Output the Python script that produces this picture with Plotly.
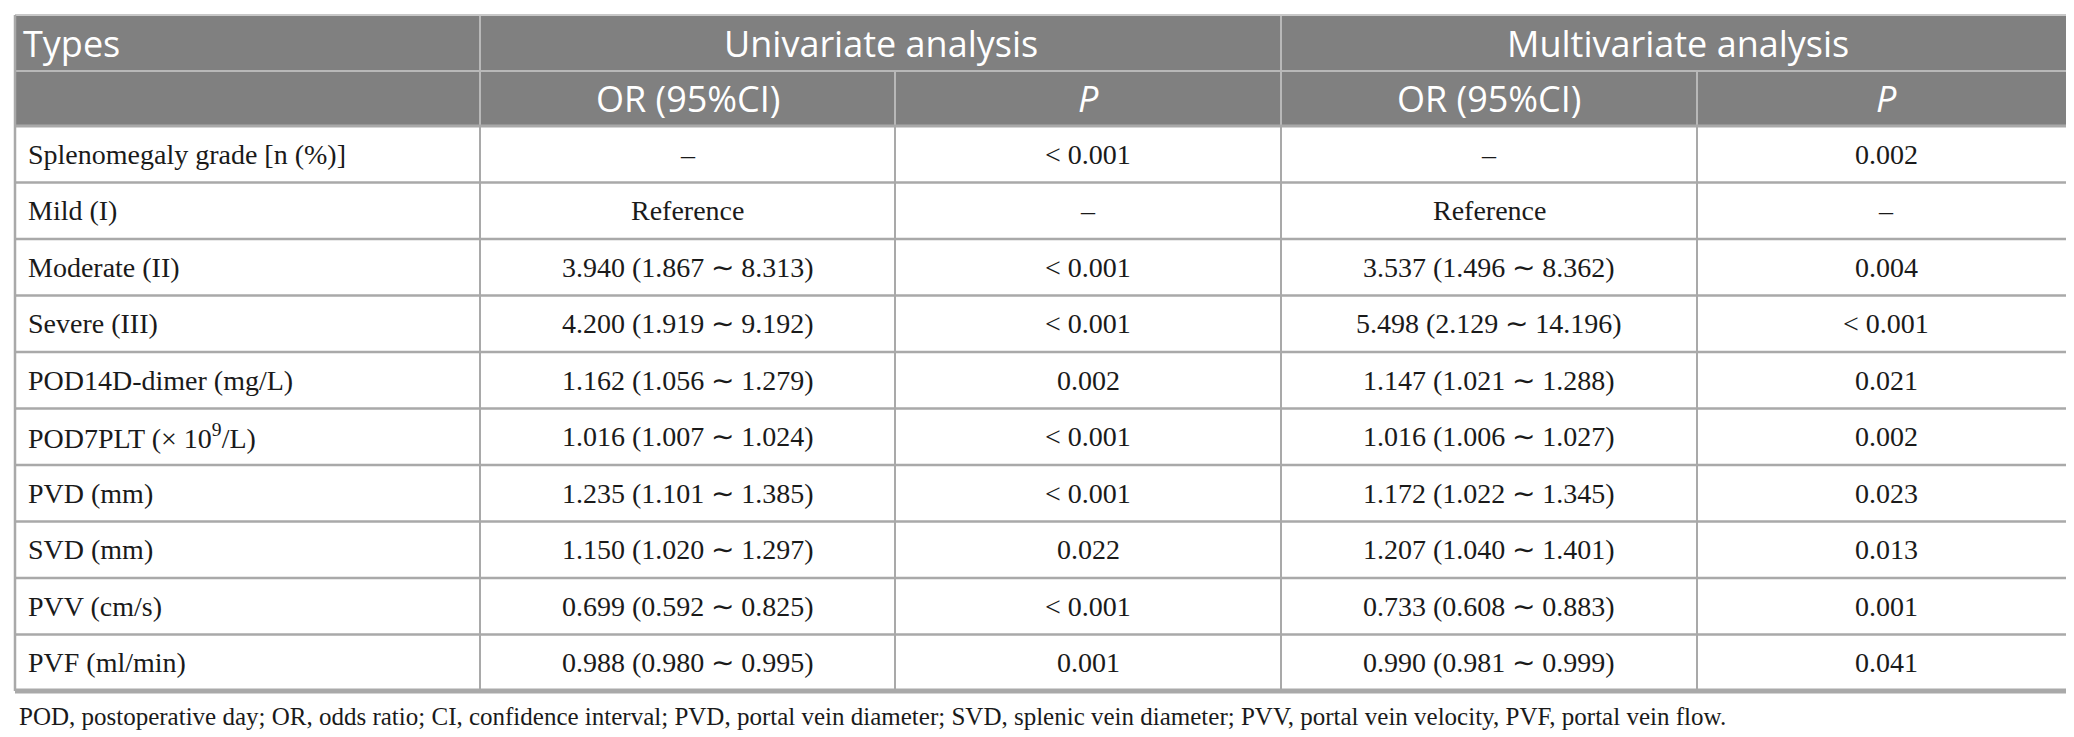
import plotly.graph_objects as go

# table content
types = ["Splenomegaly grade [n (%)]", "Mild (I)", "Moderate (II)", "Severe (III)",
         "POD14D-dimer (mg/L)", "POD7PLT (× 10<sup>9</sup>/L)", "PVD (mm)", "SVD (mm)",
         "PVV (cm/s)", "PVF (ml/min)"]
uni_or = ["–", "Reference", "3.940 (1.867 ∼ 8.313)", "4.200 (1.919 ∼ 9.192)",
          "1.162 (1.056 ∼ 1.279)", "1.016 (1.007 ∼ 1.024)", "1.235 (1.101 ∼ 1.385)",
          "1.150 (1.020 ∼ 1.297)", "0.699 (0.592 ∼ 0.825)", "0.988 (0.980 ∼ 0.995)"]
uni_p = ["< 0.001", "–", "< 0.001", "< 0.001", "0.002", "< 0.001", "< 0.001",
         "0.022", "< 0.001", "0.001"]
multi_or = ["–", "Reference", "3.537 (1.496 ∼ 8.362)", "5.498 (2.129 ∼ 14.196)",
            "1.147 (1.021 ∼ 1.288)", "1.016 (1.006 ∼ 1.027)", "1.172 (1.022 ∼ 1.345)",
            "1.207 (1.040 ∼ 1.401)", "0.733 (0.608 ∼ 0.883)", "0.990 (0.981 ∼ 0.999)"]
multi_p = ["0.002", "–", "0.004", "< 0.001", "0.021", "0.002", "0.023", "0.013",
           "0.001", "0.041"]
group_headers = ["Univariate analysis", "Multivariate analysis"]
sub_headers = ["OR (95%CI)", "<i>P</i>", "OR (95%CI)", "<i>P</i>"]
footnote = ("POD, postoperative day; OR, odds ratio; CI, confidence interval; PVD, portal vein diameter; "
            "SVD, splenic vein diameter; PVV, portal vein velocity, PVF, portal vein flow.")

W, H = 2074, 737
col_x = [7, 472, 887, 1273, 1689, 2067]
top = 7
head_h = [56, 55]
row_h = 56.5

HEAD_BG = "#808080"
LINE = "#a9a9a9"
SERIF = "Liberation Serif"
SANS = "Open Sans"
HEAD_SIZE = 36
BODY_SIZE = 28

fig = go.Figure()
shapes = []
ann = []

y_h1 = top + head_h[0]
y_h2 = y_h1 + head_h[1]
n = len(types)
y_bottom = y_h2 + n * row_h

# header background
shapes.append(dict(type="rect", x0=col_x[0], x1=col_x[-1], y0=top, y1=y_h2,
                   fillcolor=HEAD_BG, line_width=0, layer="below"))

# header text
ann.append(dict(x=col_x[0] + 6, y=(top + y_h1) / 2, text="Types", xanchor="left",
                font=dict(family=SANS, size=HEAD_SIZE, color="white")))
for i, g in enumerate(group_headers):
    xc = (col_x[1 + 2 * i] + col_x[3 + 2 * i]) / 2
    ann.append(dict(x=xc, y=(top + y_h1) / 2, text=g, xanchor="center",
                    font=dict(family=SANS, size=HEAD_SIZE, color="white")))
for i, s in enumerate(sub_headers):
    xc = (col_x[1 + i] + col_x[2 + i]) / 2
    ann.append(dict(x=xc, y=(y_h1 + y_h2) / 2, text=s, xanchor="center",
                    font=dict(family=SANS, size=HEAD_SIZE, color="white")))

# header lines
shapes.append(dict(type="line", x0=col_x[0], x1=col_x[-1], y0=y_h1, y1=y_h1,
                   line=dict(color="#b8b8b8", width=2)))
for xv in [col_x[1], col_x[3]]:
    shapes.append(dict(type="line", x0=xv, x1=xv, y0=top, y1=y_h2,
                       line=dict(color="#b8b8b8", width=2)))
for xv in [col_x[2], col_x[4]]:
    shapes.append(dict(type="line", x0=xv, x1=xv, y0=y_h1, y1=y_h2,
                       line=dict(color="#b8b8b8", width=2)))

# body
cols = [uni_or, uni_p, multi_or, multi_p]
for r in range(n):
    yc = y_h2 + (r + 0.5) * row_h
    ann.append(dict(x=col_x[0] + 11, y=yc, text=types[r], xanchor="left",
                    font=dict(family=SERIF, size=BODY_SIZE, color="#1a1a1a")))
    for c, vals in enumerate(cols):
        xc = (col_x[1 + c] + col_x[2 + c]) / 2
        ann.append(dict(x=xc, y=yc, text=vals[r], xanchor="center",
                        font=dict(family=SERIF, size=BODY_SIZE, color="#1a1a1a")))
    if r > 0:
        yl = y_h2 + r * row_h
        shapes.append(dict(type="line", x0=col_x[0], x1=col_x[-1], y0=yl, y1=yl,
                           line=dict(color=LINE, width=2.5)))

shapes.append(dict(type="line", x0=col_x[0], x1=col_x[-1], y0=y_h2, y1=y_h2,
                   line=dict(color=LINE, width=3)))
for xv in col_x[1:-1]:
    shapes.append(dict(type="line", x0=xv, x1=xv, y0=y_h2, y1=y_bottom,
                       line=dict(color=LINE, width=2)))

# outer border
shapes.append(dict(type="line", x0=col_x[0], x1=col_x[-1], y0=top, y1=top,
                   line=dict(color="#c8c8c8", width=2)))
for xv in [col_x[0], col_x[-1]]:
    shapes.append(dict(type="line", x0=xv, x1=xv, y0=top, y1=y_bottom,
                       line=dict(color=LINE, width=2.5)))
shapes.append(dict(type="line", x0=col_x[0], x1=col_x[-1], y0=y_bottom, y1=y_bottom,
                   line=dict(color=LINE, width=5)))

# footnote
ann.append(dict(x=col_x[0] + 2, y=y_bottom + 25, text=footnote, xanchor="left",
                font=dict(family=SERIF, size=25, color="#1a1a1a")))

for a in ann:
    a.update(xref="x", yref="y", showarrow=False, yanchor="middle")

fig.update_layout(
    width=W, height=H,
    margin=dict(l=0, r=0, t=0, b=0),
    paper_bgcolor="white", plot_bgcolor="white",
    shapes=shapes, annotations=ann,
    xaxis=dict(range=[0, W], visible=False, fixedrange=True),
    yaxis=dict(range=[H, 0], visible=False, fixedrange=True),
    showlegend=False,
)

fig.write_html("out.html")
